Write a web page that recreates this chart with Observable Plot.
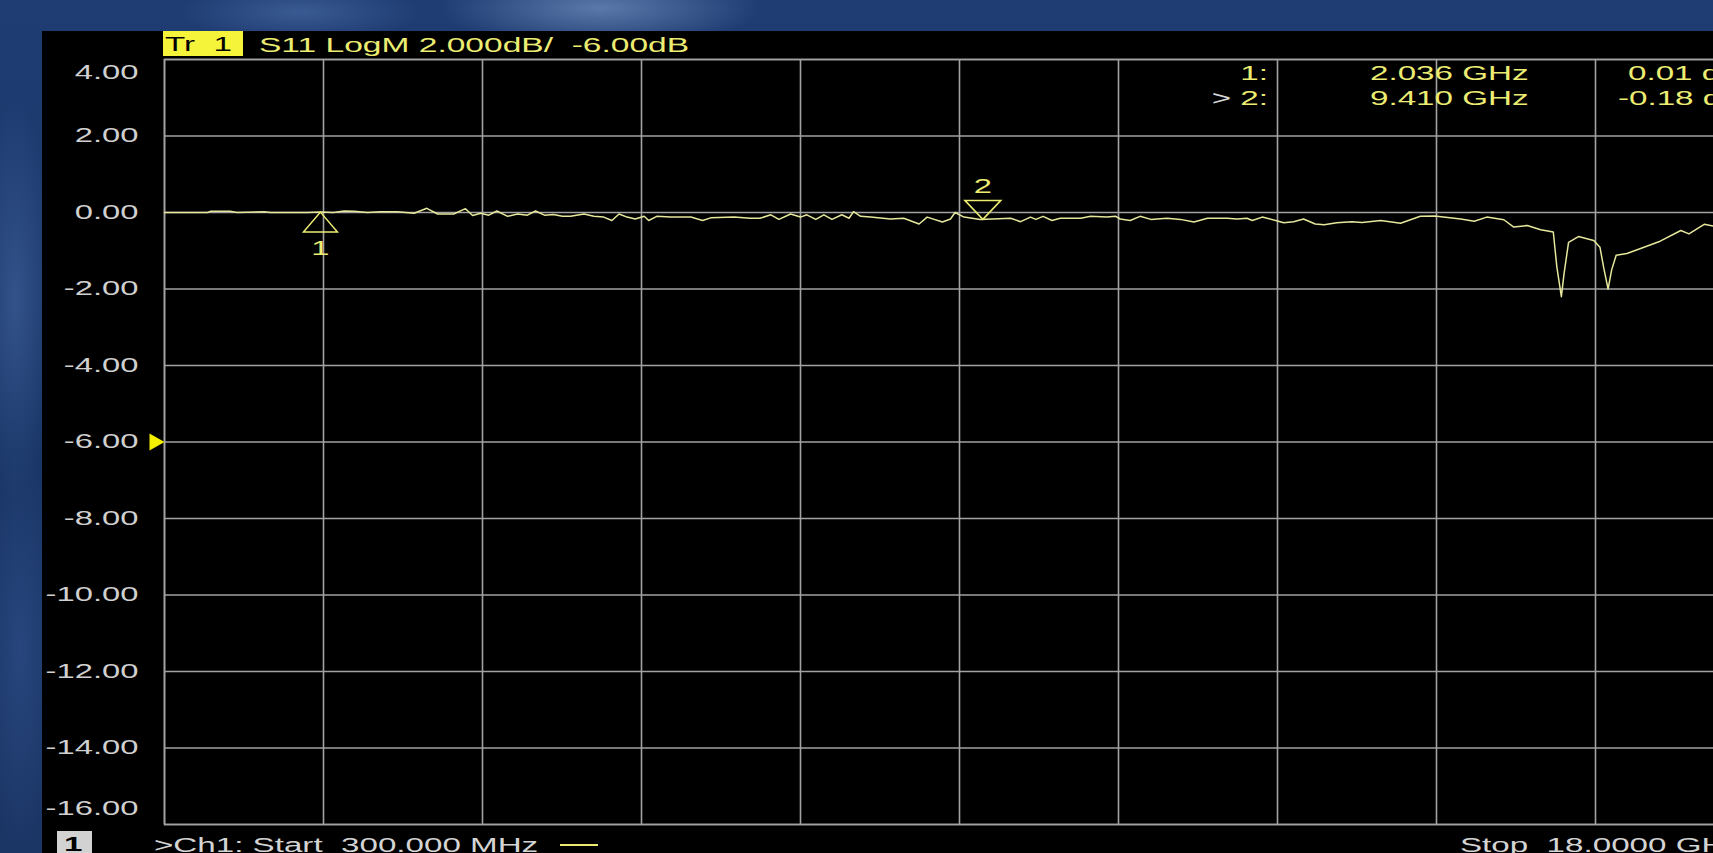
<!DOCTYPE html>
<html>
<head>
<meta charset="utf-8">
<script src="https://cdn.jsdelivr.net/npm/d3@7"></script>
<script src="https://cdn.jsdelivr.net/npm/@observablehq/plot@0.6"></script>
<style>
  html, body { margin: 0; padding: 0; width: 1713px; height: 853px; overflow: hidden; }
  body {
    position: relative;
    font-family: "Liberation Sans", Arial, sans-serif;
    background:
      radial-gradient(ellipse 160px 40px at 600px 8px, rgba(140,170,215,0.55), rgba(140,170,215,0) 100%),
      radial-gradient(ellipse 120px 30px at 300px 12px, rgba(90,125,185,0.45), rgba(90,125,185,0) 100%),
      radial-gradient(ellipse 40px 200px at 15px 300px, rgba(80,115,175,0.45), rgba(80,115,175,0) 100%),
      radial-gradient(ellipse 40px 200px at 20px 650px, rgba(60,95,160,0.4), rgba(60,95,160,0) 100%),
      linear-gradient(180deg, #1f3d73 0%, #1a3668 50%, #1b3565 100%);
  }
  #chart { position: absolute; left: 42px; top: 31px; width: 1760px; height: 822px; }
  #chart svg { max-width: none !important; width: 1760px; height: 822px; display: block; }
  .t {
    position: absolute; white-space: pre; font-size: 19.5px; line-height: 20px; height: 20px;
    transform: scaleX(1.7); transform-origin: left center; z-index: 2;
  }
  .r { text-align: right; transform-origin: right center; }
  .yel { color: #ecec72; }
  .gry { color: #d4d4d4; }
  #trbox { position: absolute; left: 163px; top: 31px; width: 80px; height: 25px; background: #f6f43a; z-index: 2; }
  #chbox { position: absolute; left: 57px; top: 831px; width: 35px; height: 24px; background: #d2d2d2; z-index: 2; }
  #seg { position: absolute; left: 560px; top: 844px; width: 38px; height: 2px; background: #ecec72; z-index: 2; }
</style>
</head>
<body>
<div id="chart"></div>

<div id="trbox"></div>
<div class="t" style="left:165px; top:34px; color:#000;">Tr  1</div>
<div class="t yel" id="title" style="left:259px; top:35px; transform: scaleX(1.72);"></div>

<div class="t r yel" style="left:1168px; width:100px; top:63px;" id="m1id"></div>
<div class="t r yel" style="left:1168px; width:100px; top:88px;" id="m2id"></div>
<div class="t yel" style="left:1370px; top:63px;" id="m1f"></div>
<div class="t yel" style="left:1370px; top:88px;" id="m2f"></div>
<div class="t yel" style="left:1628px; top:63px;" id="m1v"></div>
<div class="t yel" style="left:1618px; top:88px;" id="m2v"></div>

<div id="chbox"></div>
<div class="t" style="left:64px; top:834px; color:#000; font-weight:bold;">1</div>
<div class="t gry" style="left:154px; top:835px;" id="start"></div>
<div id="seg"></div>
<div class="t gry" style="left:1460px; top:835px;" id="stop"></div>

<script>
// ---- data ----
const freqGHz = [
  0.30, 0.78, 0.81, 1.03, 1.11, 1.41, 1.48, 1.89, 2.04, 2.18, 2.30, 2.41, 2.56, 2.70, 2.89,
  3.08, 3.22, 3.34, 3.52, 3.65, 3.73, 3.82, 3.91, 4.00, 4.12, 4.23, 4.34, 4.43, 4.53, 4.63,
  4.73, 4.82, 4.97, 5.08, 5.19, 5.28, 5.36, 5.45, 5.54, 5.64, 5.69, 5.78, 5.93, 6.16, 6.29,
  6.38, 6.64, 6.82, 6.93, 7.05, 7.14, 7.27, 7.38, 7.45, 7.55, 7.64, 7.73, 7.84, 7.92, 7.97,
  8.05, 8.16, 8.38, 8.53, 8.70, 8.79, 8.96, 9.05, 9.10, 9.20, 9.38, 9.72, 9.83, 9.94, 10.00,
  10.08, 10.18, 10.27, 10.50, 10.61, 10.79, 10.89, 10.94, 11.05, 11.16, 11.28, 11.46, 11.61, 11.76, 11.91,
  12.13, 12.24, 12.35, 12.41, 12.52, 12.67, 12.76, 12.87, 12.98, 13.11, 13.21, 13.35, 13.52, 13.63, 13.84,
  14.06, 14.28, 14.44, 14.73, 14.88, 15.02, 15.21, 15.32, 15.47, 15.62, 15.76, 15.80, 15.85, 15.88, 15.93,
  16.04, 16.21, 16.28, 16.32, 16.37, 16.41, 16.46, 16.58, 16.77, 16.95, 17.18, 17.27, 17.44, 17.55
];
const s11dB = [
  0.00, 0.00, 0.03, 0.03, 0.00, 0.02, 0.00, 0.00, 0.01, 0.00, 0.04, 0.03, 0.00, 0.02, 0.02,
  -0.02, 0.11, -0.04, -0.04, 0.10, -0.08, -0.02, -0.07, 0.04, -0.10, -0.04, -0.07, 0.04, -0.07, -0.05,
  -0.10, -0.10, -0.04, -0.10, -0.12, -0.21, -0.04, -0.12, -0.17, -0.10, -0.21, -0.10, -0.12, -0.12, -0.21,
  -0.14, -0.12, -0.15, -0.15, -0.06, -0.18, -0.04, -0.12, -0.06, -0.18, -0.06, -0.18, -0.06, -0.15, 0.02,
  -0.10, -0.12, -0.17, -0.15, -0.30, -0.12, -0.25, -0.17, 0.00, -0.12, -0.18, -0.15, -0.24, -0.12, -0.18,
  -0.10, -0.21, -0.15, -0.15, -0.10, -0.12, -0.10, -0.17, -0.21, -0.10, -0.18, -0.15, -0.18, -0.25, -0.15,
  -0.15, -0.17, -0.15, -0.21, -0.12, -0.21, -0.27, -0.24, -0.17, -0.30, -0.32, -0.27, -0.24, -0.26, -0.21,
  -0.28, -0.10, -0.09, -0.17, -0.23, -0.12, -0.19, -0.38, -0.34, -0.45, -0.51, -1.43, -2.20, -1.60, -0.78,
  -0.63, -0.73, -0.91, -1.43, -2.00, -1.50, -1.12, -1.07, -0.91, -0.75, -0.47, -0.56, -0.31, -0.36
];
const markerIds = ["1", "2"];
const markerFreqGHz = [2.036, 9.410];
const markerDb = [0.01, -0.18];
const refLevelDb = -6;
const startGHz = 0.3, stopGHz = 18.0;
const xTicks = [0.3, 2.07, 3.84, 5.61, 7.38, 9.15, 10.92, 12.69, 14.46, 16.23, 18.0];
const yTicks = [4, 2, 0, -2, -4, -6, -8, -10, -12, -14, -16];

// ---- texts ----
document.getElementById("title").textContent = "S11 LogM 2.000dB/  -6.00dB";
document.getElementById("m1id").textContent = markerIds[0] + ":";
document.getElementById("m2id").innerHTML = '<span style="color:#d8d8d8">&gt;</span> ' + markerIds[1] + ":";
document.getElementById("m1f").textContent = markerFreqGHz[0].toFixed(3) + " GHz";
document.getElementById("m2f").textContent = markerFreqGHz[1].toFixed(3) + " GHz";
document.getElementById("m1v").textContent = markerDb[0].toFixed(2) + " dB";
document.getElementById("m2v").textContent = markerDb[1].toFixed(2) + " dB";
document.getElementById("start").textContent = ">Ch1: Start  " + (startGHz * 1000).toFixed(3) + " MHz";
document.getElementById("stop").textContent = "Stop  " + stopGHz.toFixed(4) + " GHz";

// ---- chart ----
const trace = freqGHz.map((f, i) => ({f, db: s11dB[i]}));
const markers = markerIds.map((id, i) => ({id, f: markerFreqGHz[i], db: markerDb[i]}));

const upTri = {draw(ctx) { ctx.moveTo(0, 0); ctx.lineTo(17, 20); ctx.lineTo(-17, 20); ctx.closePath(); }};
const downTri = {draw(ctx) { ctx.moveTo(0, 0); ctx.lineTo(18, -19); ctx.lineTo(-18, -19); ctx.closePath(); }};
const refArrow = {draw(ctx) { ctx.moveTo(0, 0); ctx.lineTo(-15, -8.5); ctx.lineTo(-15, 8.5); ctx.closePath(); }};

const gridColor = "#a2a2a2";
const traceColor = "#e6e69c";
const yellow = "#ecec72";
const fmt = d => d.toFixed(2);

const chart = Plot.plot({
  width: 1760,
  height: 822,
  marginLeft: 122,
  marginRight: 48,
  marginTop: 28,
  marginBottom: 29,
  style: {
    background: "#000",
    color: "#d0d0d0",
    fontFamily: "'Liberation Sans', Arial, sans-serif",
    fontSize: "19.5px",
    overflow: "visible",
    maxWidth: "none"
  },
  x: {domain: [startGHz, stopGHz], axis: null},
  y: {domain: [-16, 4], axis: null},
  marks: [
    Plot.gridX(xTicks, {stroke: gridColor, strokeOpacity: 1, strokeWidth: 1.6}),
    Plot.gridY(yTicks, {stroke: gridColor, strokeOpacity: 1, strokeWidth: 1.6}),
    Plot.frame({stroke: gridColor, strokeWidth: 1.6}),
    Plot.axisY(yTicks.slice(1, -1), {tickSize: 0, tickPadding: 26, tickFormat: fmt, fontSize: 19.5, fill: "#d0d0d0", label: null}),
    Plot.axisY([yTicks[0]], {tickSize: 0, tickPadding: 26, tickFormat: fmt, fontSize: 19.5, fill: "#d0d0d0", dy: 13, label: null}),
    Plot.axisY([yTicks[yTicks.length - 1]], {tickSize: 0, tickPadding: 26, tickFormat: fmt, fontSize: 19.5, fill: "#d0d0d0", dy: -16, label: null}),
    Plot.dot([{f: startGHz, db: refLevelDb}], {x: "f", y: "db", symbol: refArrow, fill: "#f4f000", stroke: "none", r: 5}),
    Plot.line(trace, {x: "f", y: "db", stroke: traceColor, strokeWidth: 1.5}),
    Plot.dot(markers.filter(m => m.id === "1"), {x: "f", y: "db", symbol: upTri, stroke: yellow, fill: "none", strokeWidth: 1.5, r: 5}),
    Plot.dot(markers.filter(m => m.id === "2"), {x: "f", y: "db", symbol: downTri, stroke: yellow, fill: "none", strokeWidth: 1.5, r: 5}),
    Plot.text(markers.filter(m => m.id === "1"), {x: "f", y: "db", text: "id", dy: 37, fill: yellow, fontSize: 19.5}),
    Plot.text(markers.filter(m => m.id === "2"), {x: "f", y: "db", text: "id", dy: -33, fill: yellow, fontSize: 19.5})
  ]
});
document.getElementById("chart").appendChild(chart);

// stretch SVG text horizontally like the analyzer's screen font
chart.querySelectorAll("text").forEach(el => {
  const bb = el.getBBox();
  const anchor = getComputedStyle(el).textAnchor;
  const ax = anchor === "end" ? bb.x + bb.width : anchor === "middle" ? bb.x + bb.width / 2 : bb.x;
  const t = el.getAttribute("transform") || "";
  el.setAttribute("transform", `${t} translate(${ax},0) scale(1.68,1) translate(${-ax},0)`);
});
</script>
</body>
</html>
